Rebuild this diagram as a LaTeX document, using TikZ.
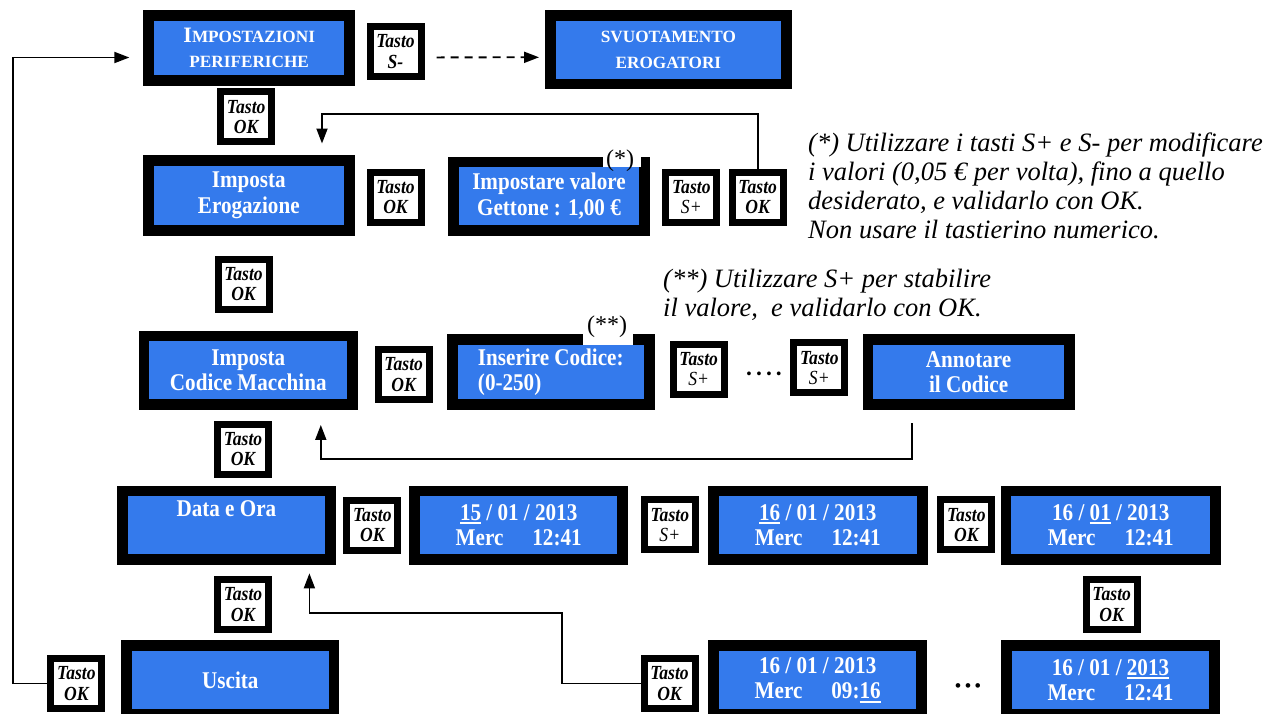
\documentclass[tikz,border=0pt]{standalone}
\usepackage{fontspec}
\setmainfont{Liberation Serif}
\newfontfamily\boxfont[FakeStretch=0.88]{Liberation Serif}
\usetikzlibrary{arrows.meta,calc}
\definecolor{lcdblue}{RGB}{52,122,236}
% white underline under a selected field of a display
\newsavebox{\ulbox}
\newcommand{\uln}[1]{\sbox{\ulbox}{#1}\rlap{\rule[-3.6pt]{\wd\ulbox}{1.8pt}}\usebox{\ulbox}}

\begin{document}
\begin{tikzpicture}[x=1pt,y=-1pt,
  screen/.style 2 args={draw=black, fill=lcdblue, line width=10.7pt, inner sep=0pt,
     minimum width=#1pt-10.7pt, minimum height=#2pt-10.7pt, align=center, text=white,
     font=\boxfont\bfseries\fontsize{24}{25.5}\selectfont},
  key/.style={draw=black, fill=white, line width=7pt, inner sep=0pt,
     minimum width=51pt, minimum height=50pt, align=center,
     font=\boxfont\itshape\fontsize{20}{20.5}\selectfont},
  link/.style={line width=1.8pt, -{Triangle[length=15pt,width=11pt]}},
  note/.style={inner sep=0pt, align=left, font=\itshape\fontsize{26.5}{29}\selectfont},
  starlbl/.style={inner sep=0pt, font=\fontsize{24}{24}\selectfont},
  dots/.style={inner sep=0pt, font=\bfseries\fontsize{14}{14}\selectfont},
]
\fill[white] (0,0) rectangle (1286,713);
\useasboundingbox (0,0) rectangle (1286,713);

% ---- peripheral settings / dispenser emptying
\node[screen={211.7}{76}, font=\bfseries\fontsize{17.2}{24.4}\selectfont] (B1) at (249.2,48)
  {{\fontsize{22}{24.4}\selectfont I}MPOSTAZIONI\\PERIFERICHE};
\node[key] (K1) at (395.5,51.4) {\textbf{Tasto}\\\textbf{S-}};
\node[screen={246.7}{79.3}, font=\bfseries\fontsize{17.2}{26}\selectfont] (B2) at (668.4,49.7)
  {SVUOTAMENTO\\EROGATORI};
\draw[link, dash pattern=on 8pt off 6pt] ($(K1.east)+(12,6)$) -- ($(B2.west)+(-6,7.6)$);
\node[key] (K2) at (246.2,116.8) {\textbf{Tasto}\\\textbf{OK}};

% ---- token value
\node[screen={211.6}{81}] (B3) at (248.8,195.5) {Imposta\\Erogazione};
\node[key] (K3) at (395.5,197) {\textbf{Tasto}\\\textbf{OK}};
\node[screen={202}{79}] (B4) at (549,196.2) {Impostare valore\\Gettone : 1,00 €};
\fill[white] ($(B4.north east)+(-47,-1)$) rectangle ($(B4.north east)+(-9.5,10.5)$);
\node[starlbl] (S1) at (620,161) {(*)};
\node[key] (K4) at (691.3,197) {\textbf{Tasto}\\S+};
\node[key] (K5) at (757.7,197) {\textbf{Tasto}\\\textbf{OK}};
% the base anchor of a multi-line note sits on its last line
\node[note, anchor=base west] (N1) at (808,238.7)
  {(*) Utilizzare i tasti S+ e S- per modificare\\
   i valori (0,05 € per volta), fino a quello\\
   desiderato, e validarlo con OK.\\
   Non usare il tastierino numerico.};
\coordinate (tipB3) at ($(B3.north)+(73.2,-11.5)$);
\draw[link] (K5.north) -- ++(0,-54.2) -| (tipB3);

\node[key] (K6) at (243.5,284) {\textbf{Tasto}\\\textbf{OK}};
\node[note, anchor=base west] (N2) at (663,316.5)
  {(**) Utilizzare S+ per stabilire\\
   il valore,~ e validarlo con OK.};

% ---- machine code
\node[screen={219.4}{79.3}] (B5) at (248.3,370.3) {Imposta\\Codice Macchina};
\node[key] (K7) at (403.7,374.7) {\textbf{Tasto}\\\textbf{OK}};
\node[screen={207.6}{76}, align=left] (B6) at (550.8,372) {Inserire Codice:\\(0-250)};
\fill[white] ($(B6.north east)+(-72.1,-1)$) rectangle ($(B6.north east)+(-21.6,10.5)$);
\node[starlbl] (S2) at (607,327) {(**)};
\node[key] (K8) at (698.7,369.2) {\textbf{Tasto}\\S+};
\node[dots] (D1) at (764,375) {•\hspace{5pt}•\hspace{5pt}•\hspace{5pt}•};
\node[key] (K9) at (819.3,367.9) {\textbf{Tasto}\\S+};
\node[screen={212.2}{76}] (B7) at (968.6,372) {Annotare\\il Codice};
\coordinate (fromB7) at ($(B7.south)+(-56.6,13)$);
\coordinate (tipB5) at ($(B5.south)+(72.5,15)$);
\draw[link] (fromB7) -- ++(0,36.3) -| (tipB5);

\node[key] (K10) at (243,449) {\textbf{Tasto}\\\textbf{OK}};

% ---- date and time
\node[screen={218.7}{79.3}] (B8) at (226.4,525.4) {Data e Ora\\\strut};
\node[key] (K11) at (372.3,525) {\textbf{Tasto}\\\textbf{OK}};
\node[screen={218.6}{79.3}] (B9) at (518.7,525.4) {\uln{15} / 01 / 2013\\Merc\hspace{29pt}12:41};
\node[key] (K12) at (669.8,524.9) {\textbf{Tasto}\\S+};
\node[screen={219.6}{79.3}] (B10) at (817.8,525.4) {\uln{16} / 01 / 2013\\Merc\hspace{29pt}12:41};
\node[key] (K13) at (966.3,524.9) {\textbf{Tasto}\\\textbf{OK}};
\node[screen={220.5}{79.3}] (B11) at (1110.8,525.4) {16 / \uln{01} / 2013\\Merc\hspace{29pt}12:41};

\node[key] (K14) at (1111.7,604.4) {\textbf{Tasto}\\\textbf{OK}};
\node[key] (K15) at (243,604.7) {\textbf{Tasto}\\\textbf{OK}};

% ---- exit
\node[key] (K17) at (76.4,683.4) {\textbf{Tasto}\\\textbf{OK}};
\node[screen={218}{80}] (B12) at (230.4,680) {Uscita};
\node[key] (K16) at (669.5,683.4) {\textbf{Tasto}\\\textbf{OK}};
\node[screen={218.6}{80}] (B13) at (817.7,680) {16 / 01 / 2013\\Merc\hspace{29pt}09:\uln{16}};
\node[dots, font=\bfseries\fontsize{17}{17}\selectfont] (D2) at (968,688) {•\hspace{4pt}•\hspace{4pt}•};
\node[screen={219}{80}] (B14) at (1110.5,680) {16 / 01 / \uln{2013}\\Merc\hspace{29pt}12:41};

\coordinate (tipB8) at ($(B8.south)+(83,8.3)$);
\coordinate (bendK16) at ($(K16.west)+(-78.8,-70.1)$);
\draw[link] (K16.west) -| (bendK16) -| (tipB8);

\coordinate (tipB1) at ($(B1.west)+(-14,9.5)$);
\draw[link] (K17.west) -- ++(-34.3,0) |- (tipB1);
\end{tikzpicture}
\end{document}
